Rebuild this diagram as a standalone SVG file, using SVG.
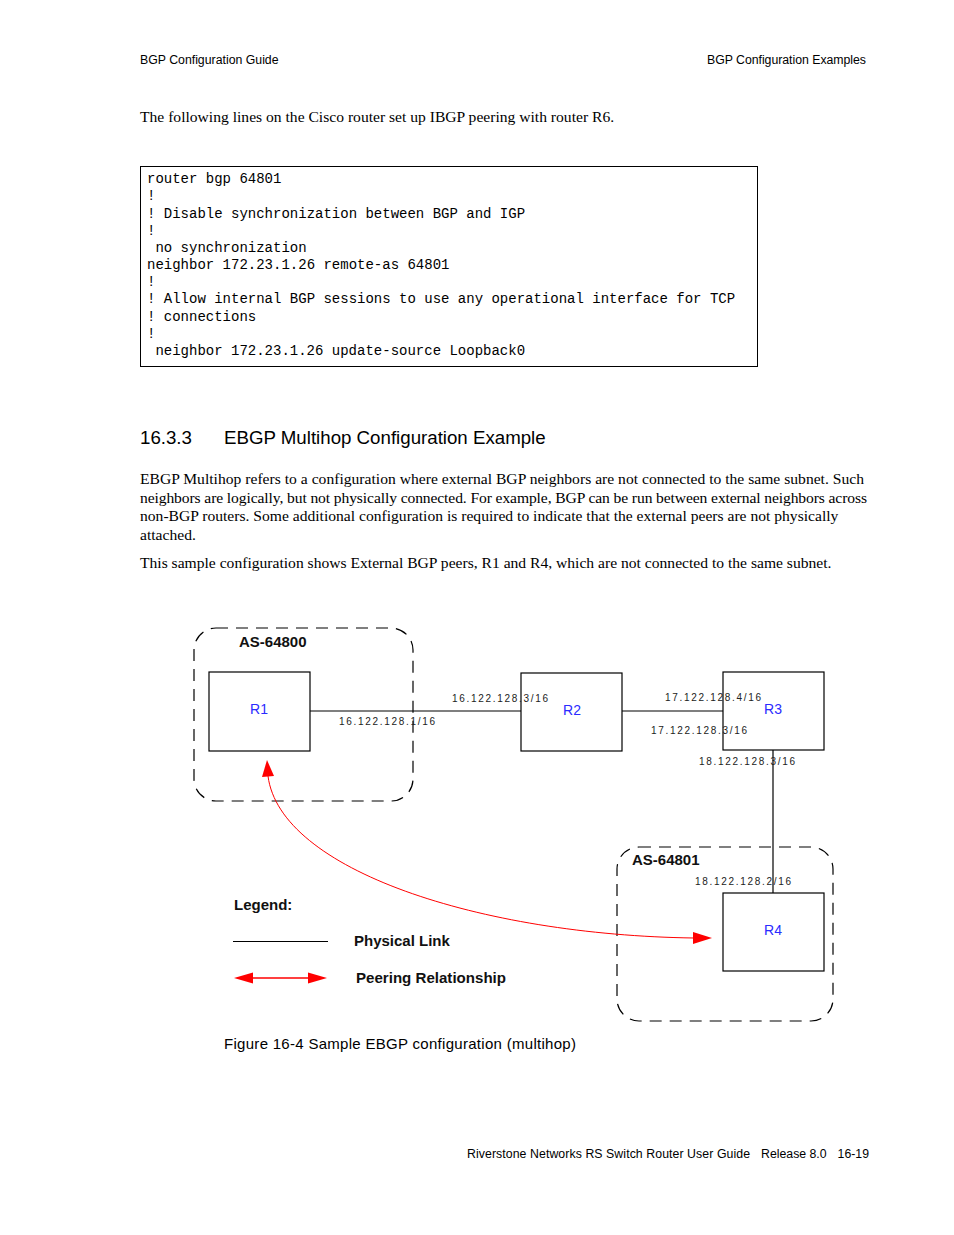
<svg xmlns="http://www.w3.org/2000/svg" width="954" height="1235" viewBox="0 0 954 1235">
<style>
.hdr{font-family:"Liberation Sans",Arial,sans-serif;font-size:12.3px;fill:#000}
.body{font-family:"Liberation Serif","Times New Roman",serif;font-size:15.6px;fill:#000}
.code{font-family:"Liberation Mono","Courier New",monospace;font-size:14px;fill:#000}
.h2{font-family:"Liberation Sans",Arial,sans-serif;font-size:18.7px;fill:#000}
.cap{font-family:"Liberation Sans",Arial,sans-serif;font-size:15px;fill:#000}
.box{fill:#fff;stroke:#000;stroke-width:1.2}
.as{fill:none;stroke:#000;stroke-width:1.2;stroke-dasharray:12 8}
.rl{font-family:"Liberation Sans",Arial,sans-serif;font-size:14px;fill:#2b2bff;text-anchor:middle}
.ip{font-family:"Liberation Sans",Arial,sans-serif;font-size:10px;fill:#222;letter-spacing:1.7px}
.bold{font-family:"Liberation Sans",Arial,sans-serif;font-size:15px;font-weight:bold;fill:#111}
.link{stroke:#000;stroke-width:1.2;fill:none}
.peer{stroke:#f00;stroke-width:1;fill:none}
.ah{fill:#f00}
</style>
<rect width="954" height="1235" fill="#fff"/>

<text class="hdr" x="140" y="64">BGP Configuration Guide</text>
<text class="hdr" x="866" y="64" text-anchor="end" textLength="159">BGP Configuration Examples</text>

<text class="body" x="140" y="122">The following lines on the Cisco router set up IBGP peering with router R6.</text>

<rect x="140.5" y="166.5" width="617" height="200" fill="none" stroke="#000" stroke-width="1"/>
<g class="code">
<text x="147" y="183">router bgp 64801</text>
<text x="147" y="200">!</text>
<text x="147" y="218">! Disable synchronization between BGP and IGP</text>
<text x="147" y="235">!</text>
<text x="155.4" y="252">no synchronization</text>
<text x="147" y="269">neighbor 172.23.1.26 remote-as 64801</text>
<text x="147" y="286">!</text>
<text x="147" y="303">! Allow internal BGP sessions to use any operational interface for TCP</text>
<text x="147" y="321">! connections</text>
<text x="147" y="338">!</text>
<text x="155.4" y="355">neighbor 172.23.1.26 update-source Loopback0</text>
</g>

<text class="h2" x="140" y="444">16.3.3</text>
<text class="h2" x="224" y="444">EBGP Multihop Configuration Example</text>

<text class="body" x="140" y="484" textLength="724" lengthAdjust="spacing">EBGP Multihop refers to a configuration where external BGP neighbors are not connected to the same subnet. Such</text>
<text class="body" x="140" y="503" textLength="727" lengthAdjust="spacing">neighbors are logically, but not physically connected. For example, BGP can be run between external neighbors across</text>
<text class="body" x="140" y="521">non-BGP routers. Some additional configuration is required to indicate that the external peers are not physically</text>
<text class="body" x="140" y="540">attached.</text>
<text class="body" x="140" y="568">This sample configuration shows External BGP peers, R1 and R4, which are not connected to the same subnet.</text>

<!-- AS groups -->
<g id="as64800">
<rect class="as" x="194" y="628" width="219" height="173" rx="22"/>
<text class="bold" x="239" y="647">AS-64800</text>
</g>
<g id="as64801">
<rect class="as" x="617" y="847" width="216" height="174" rx="22"/>
<text class="bold" x="632" y="865">AS-64801</text>
</g>

<!-- connectors -->
<g id="connectors">
<line class="link" x1="310" y1="711" x2="521" y2="711"/>
<line class="link" x1="622" y1="711" x2="723" y2="711"/>
<line class="link" x1="773" y1="750" x2="773" y2="893"/>
<path class="peer" d="M268,776 C280,870 480,935 694,938"/>
<polygon class="ah" points="267,760 262,777 274,776"/>
<polygon class="ah" points="712,938 693,932 693,944"/>
</g>

<!-- nodes -->
<g id="R1">
<rect class="box" x="209" y="672" width="101" height="79"/>
<text class="rl" x="259" y="714">R1</text>
</g>
<g id="R2">
<rect class="box" x="521" y="673" width="101" height="78"/>
<text class="rl" x="572" y="715">R2</text>
</g>
<g id="R3">
<rect class="box" x="723" y="672" width="101" height="78"/>
<text class="rl" x="773" y="714">R3</text>
</g>
<g id="R4">
<rect class="box" x="723" y="893" width="101" height="78"/>
<text class="rl" x="773" y="935">R4</text>
</g>

<!-- interface labels -->
<g id="labels">
<text class="ip" x="339" y="725">16.122.128.1/16</text>
<text class="ip" x="452" y="702">16.122.128.3/16</text>
<text class="ip" x="665" y="701">17.122.128.4/16</text>
<text class="ip" x="651" y="734">17.122.128.3/16</text>
<text class="ip" x="699" y="765">18.122.128.3/16</text>
<text class="ip" x="695" y="885">18.122.128.2/16</text>
</g>

<!-- legend -->
<g id="legend">
<text class="bold" x="234" y="910">Legend:</text>
<line class="link" x1="233" y1="941.5" x2="328" y2="941.5"/>
<text class="bold" x="354" y="946">Physical Link</text>
<line x1="250" y1="978" x2="311" y2="978" stroke="#f00" stroke-width="1.5"/>
<polygon class="ah" points="234,978 253,972.5 253,983.5"/>
<polygon class="ah" points="327,978 308,972.5 308,983.5"/>
<text class="bold" x="356" y="983" textLength="150" lengthAdjust="spacingAndGlyphs">Peering Relationship</text>
</g>

<text class="cap" x="224" y="1049" textLength="352">Figure 16-4 Sample EBGP configuration (multihop)</text>

<text class="hdr" x="467" y="1158" textLength="283">Riverstone Networks RS Switch Router User Guide</text>
<text class="hdr" x="761" y="1158">Release 8.0</text>
<text class="hdr" x="869" y="1158" text-anchor="end">16-19</text>
</svg>
